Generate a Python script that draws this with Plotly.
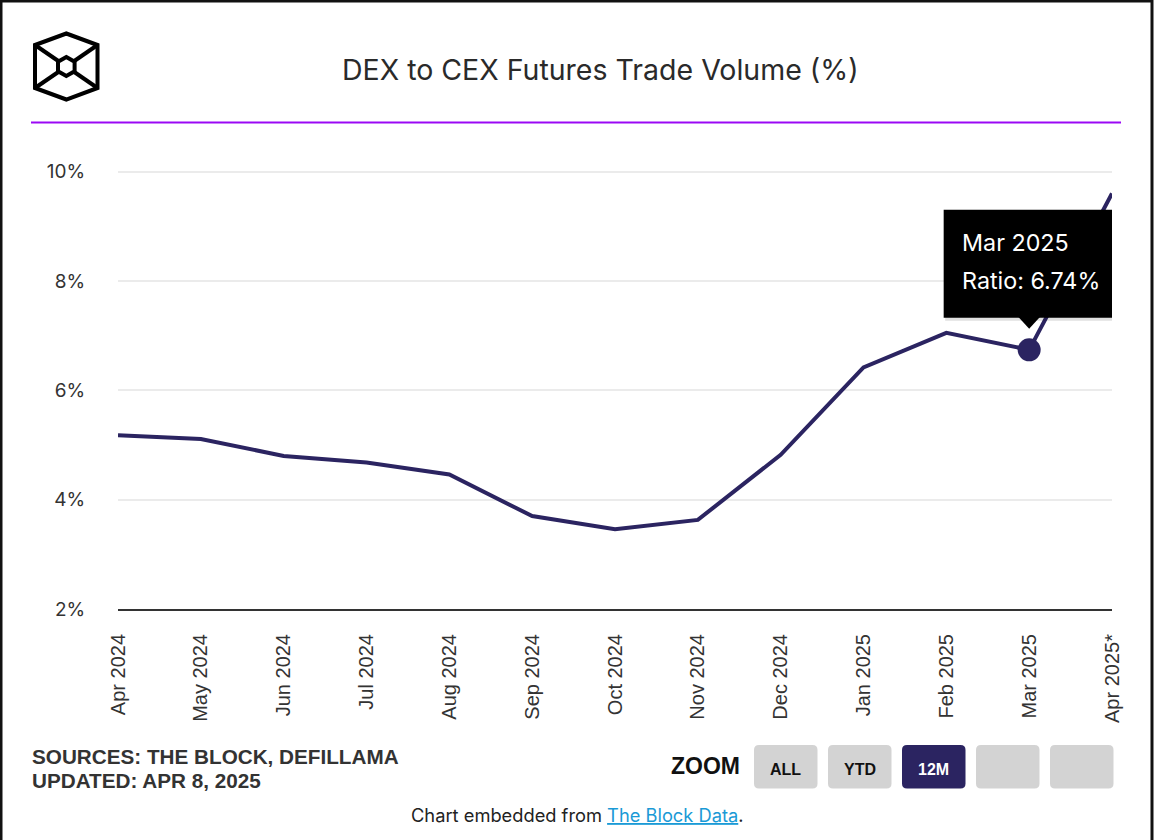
import plotly.graph_objects as go

# ---------------- data ----------------
months = ["Apr 2024", "May 2024", "Jun 2024", "Jul 2024", "Aug 2024", "Sep 2024",
          "Oct 2024", "Nov 2024", "Dec 2024", "Jan 2025", "Feb 2025", "Mar 2025",
          "Apr 2025*"]
ratio = [5.18, 5.11, 4.80, 4.68, 4.46, 3.70, 3.46, 3.63, 4.82, 6.42, 7.05, 6.74, 9.60]
y_ticks = [2, 4, 6, 8, 10]
y_tick_labels = ["2%", "4%", "6%", "8%", "10%"]
highlight_idx = 11
title_text = "DEX to CEX Futures Trade Volume (%)"
source_lines = ["SOURCES: THE BLOCK, DEFILLAMA", "UPDATED: APR 8, 2025"]
zoom_labels = ["ALL", "YTD", "12M", "", ""]
active_zoom = "12M"

# ---------------- layout geometry ----------------
W, H = 1154, 840
L, R, T, B = 118, 1112, 147, 609
NAVY = "#2b2461"


def fx(px):
    return (px - L) / (R - L)


def fy(py):
    return (B - py) / (B - T)


def path(points, close=True):
    s = "M " + " L ".join(f"{fx(x):.5f},{fy(y):.5f}" for x, y in points)
    return s + (" Z" if close else "")


def rrect(x0, y0, x1, y1, r):
    pts = [
        ("M", (x0 + r, y0)), ("L", (x1 - r, y0)), ("Q", (x1, y0), (x1, y0 + r)),
        ("L", (x1, y1 - r)), ("Q", (x1, y1), (x1 - r, y1)), ("L", (x0 + r, y1)),
        ("Q", (x0, y1), (x0, y1 - r)), ("L", (x0, y0 + r)), ("Q", (x0, y0), (x0 + r, y0)),
    ]
    s = ""
    for item in pts:
        cmd = item[0]
        coords = " ".join(f"{fx(x):.5f},{fy(y):.5f}" for x, y in item[1:])
        s += f"{cmd} {coords} "
    return s + "Z"


fig = go.Figure()
fig.add_trace(go.Scatter(
    x=list(range(len(months))), y=ratio, mode="lines",
    line=dict(color=NAVY, width=4), hoverinfo="skip", cliponaxis=True,
))
fig.add_trace(go.Scatter(
    x=[highlight_idx], y=[ratio[highlight_idx]], mode="markers",
    marker=dict(color=NAVY, size=23), hoverinfo="skip",
))

shapes = []
# page border (left, top, right)
shapes.append(dict(type="path", xref="paper", yref="paper",
                   path=path([(1, 845), (1, 1), (1152, 1), (1152, 845)], close=False),
                   line=dict(color="#111", width=3)))
# purple separator
shapes.append(dict(type="line", xref="paper", yref="paper",
                   x0=fx(31), x1=fx(1121), y0=fy(122.5), y1=fy(122.5),
                   line=dict(color="#9b08f5", width=2)))
# logo
cx, cy = 66.3, 66.5
outer = [(66.3, 33.5), (97.5, 45.0), (97.5, 88.0), (66.3, 99.5), (35.0, 88.0), (35.0, 45.0)]
shapes.append(dict(type="path", xref="paper", yref="paper", path=path(outer),
                   line=dict(color="#000", width=4)))
for (x, y) in [outer[1], outer[2], outer[4], outer[5]]:
    shapes.append(dict(type="path", xref="paper", yref="paper",
                       path=path([(x, y), (cx, cy)], close=False),
                       line=dict(color="#000", width=4)))
inner = [(cx, cy - 9.5), (cx + 8.3, cy - 4.8), (cx + 8.3, cy + 4.8),
         (cx, cy + 9.5), (cx - 8.3, cy + 4.8), (cx - 8.3, cy - 4.8)]
shapes.append(dict(type="path", xref="paper", yref="paper", path=path(inner),
                   fillcolor="white", line=dict(color="#000", width=4)))

# zoom buttons
btn_x = [754, 828, 902, 976, 1050]
for bx, lab in zip(btn_x, zoom_labels):
    col = NAVY if lab == active_zoom else "#d3d3d3"
    shapes.append(dict(type="path", xref="paper", yref="paper",
                       path=rrect(bx, 745, bx + 63.5, 788.5, 5),
                       fillcolor=col, line=dict(width=0)))

# tooltip (pixel offsets relative to the highlighted point)
tt = dict(xref="x", yref="y", xsizemode="pixel", ysizemode="pixel",
          xanchor=highlight_idx, yanchor=ratio[highlight_idx], layer="above")
shapes.append(dict(type="rect", x0=-84, x1=88, y0=29, y1=139,
                   fillcolor="rgba(0,0,0,0.12)", line=dict(width=0), **tt))
shapes.append(dict(type="rect", x0=-85.5, x1=85.5, y0=32, y1=140,
                   fillcolor="#000", line=dict(width=0), **tt))
shapes.append(dict(type="path", path="M -11,33 L 0,21 L 11,33 Z",
                   fillcolor="#000", line=dict(width=0), **tt))

annotations = []
annotations.append(dict(xref="paper", yref="paper", x=fx(600), y=fy(70),
                        xanchor="center", yanchor="middle", showarrow=False,
                        text=title_text,
                        font=dict(family="Inter", size=28.5, color="#2a2a2a")))
for i, (line_txt, py) in enumerate(zip(source_lines, [756, 780])):
    annotations.append(dict(xref="paper", yref="paper", x=fx(30), y=fy(py),
                            xanchor="left", yanchor="middle", showarrow=False,
                            text=line_txt,
                            font=dict(family="Liberation Sans", size=20.7,
                                      color="#333", weight=700)))
annotations.append(dict(xref="paper", yref="paper", x=fx(742), y=fy(766),
                        xanchor="right", yanchor="middle", showarrow=False,
                        text="ZOOM",
                        font=dict(family="Liberation Sans", size=23,
                                  color="#111", weight=700)))
for bx, lab in zip(btn_x, zoom_labels):
    if lab:
        annotations.append(dict(xref="paper", yref="paper", x=fx(bx + 31.75),
                                y=fy(769), xanchor="center", yanchor="middle",
                                showarrow=False, text=lab,
                                font=dict(family="Liberation Sans", size=16,
                                          color="white" if lab == active_zoom else "#111",
                                          weight=700)))
annotations.append(dict(xref="paper", yref="paper", x=fx(577), y=fy(815),
                        xanchor="center", yanchor="middle", showarrow=False,
                        text=("Chart embedded from "
                              "<a href='https://www.theblock.co/data' "
                              "style='color:#1a9ad6'><u>The Block Data</u></a>."),
                        font=dict(family="Inter", size=18.3, color="#222")))
# tooltip text
annotations.append(dict(xref="x", yref="y", x=highlight_idx, y=ratio[highlight_idx],
                        xanchor="left", yanchor="middle", xshift=-69, yshift=107,
                        showarrow=False, text=months[highlight_idx],
                        font=dict(family="Inter", size=23.3, color="white")))
annotations.append(dict(xref="x", yref="y", x=highlight_idx, y=ratio[highlight_idx],
                        xanchor="left", yanchor="middle", xshift=-69, yshift=69,
                        showarrow=False, text=f"Ratio: {ratio[highlight_idx]:.2f}%",
                        font=dict(family="Inter", size=23.3, color="white")))

fig.update_layout(
    width=W, height=H,
    margin=dict(l=L, r=W - R, t=T, b=H - B, pad=0),
    paper_bgcolor="white", plot_bgcolor="white",
    showlegend=False, hovermode=False,
    shapes=shapes, annotations=annotations,
    xaxis=dict(
        tickmode="array", tickvals=list(range(len(months))), ticktext=months,
        range=[0, len(months) - 1], tickangle=-90,
        showgrid=False, zeroline=False,
        showline=True, linecolor="#333", linewidth=2,
        ticks="outside", ticklen=15, tickcolor="rgba(0,0,0,0)",
        tickfont=dict(family="Liberation Sans", size=20, color="#333"),
        fixedrange=True,
    ),
    yaxis=dict(
        tickmode="array", tickvals=y_ticks, ticktext=y_tick_labels,
        range=[2, 10.45], showgrid=True, gridcolor="#ebebeb", gridwidth=1.5,
        zeroline=False, showline=False,
        ticks="outside", ticklen=28, tickcolor="rgba(0,0,0,0)",
        tickfont=dict(family="Inter", size=19, color="#333"),
        fixedrange=True,
    ),
)

fig.write_html("out.html", config={"displayModeBar": False},
               post_script="document.body.style.margin='0';")
